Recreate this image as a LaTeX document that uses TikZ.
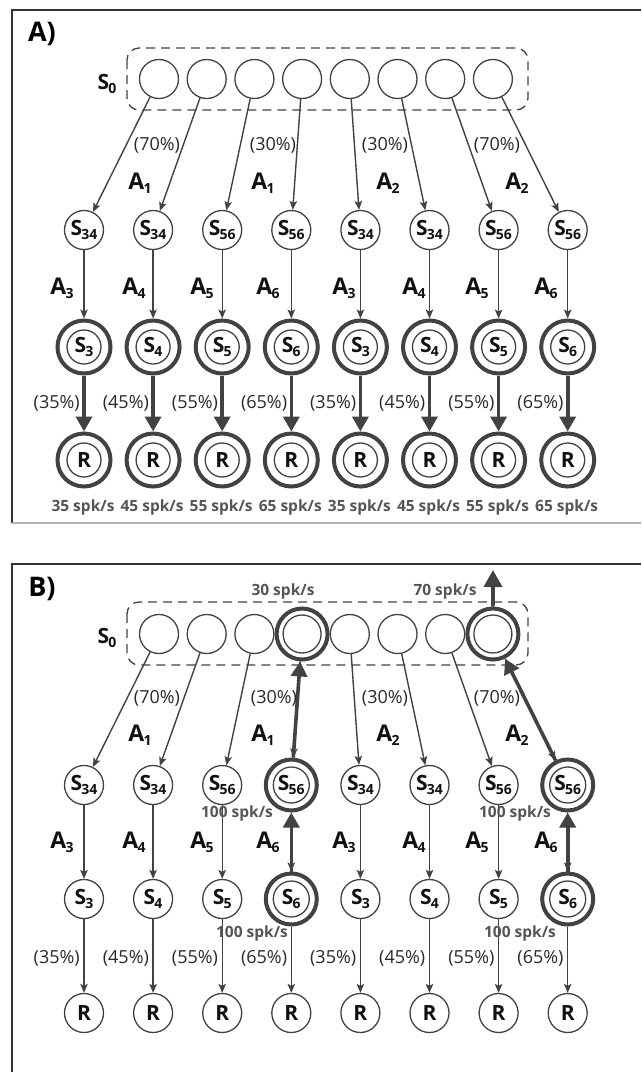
\documentclass[tikz,border=0pt]{standalone}
\usepackage{fontspec}
\setmainfont{Open Sans}
\usetikzlibrary{arrows.meta}
\definecolor{ln}{HTML}{424242}
\definecolor{tx}{HTML}{111111}
\definecolor{gy}{HTML}{555555}
\newcommand\nsub[2]{#1\kern-0.8pt\raisebox{-4pt}{\fontsize{14}{14}\selectfont #2}}
\begin{document}
\begin{tikzpicture}[x=1pt,y=-1pt,
  plain/.style={circle,draw=ln,line width=1.3pt,minimum size=39pt,inner sep=0pt,
    font=\fontsize{21}{21}\selectfont\bfseries,text=tx},
  ring/.style={circle,draw=ln,line width=4pt,minimum size=#1,inner sep=0pt,
    font=\fontsize{21}{21}\selectfont\bfseries,text=tx},
  inner/.style={path picture={\draw[ln,line width=1.3pt] (path picture bounding box.center) circle (#1);}},
  tarrow/.style={draw=ln,line width=1.4pt,-{Stealth[length=9pt,width=7.5pt,inset=2pt]}},
  karrow/.style={draw=ln,line width=3.6pt,-{Triangle[length=15pt,width=16pt]}},
  pct/.style={font=\fontsize{18}{18}\selectfont,text=tx!90,inner sep=0pt},
  alab/.style={font=\fontsize{23}{23}\selectfont\bfseries,text=tx,inner sep=0pt},
  spk/.style={font=\fontsize{15.5}{15.5}\selectfont\bfseries,text=gy,inner sep=0pt},
  panel/.style={font=\fontsize{27}{27}\selectfont\bfseries,text=black,inner sep=0pt},
  dashbox/.style={draw=ln,line width=1.3pt,dash pattern=on 9pt off 6pt,rounded corners=12pt},
  frame/.style={draw=black!80,line width=1.3pt}
]
\useasboundingbox (0,0) rectangle (641,1072);
% frames
\draw[frame] (641,10) -- (12,10) -- (12,523);
\draw[draw=black!30,line width=1.3pt] (12,523) -- (641,523);
\draw[frame] (641,564) -- (12,564) -- (12,1072);
\node[panel] (pA) at (42,34) {A)};
\node[panel] (pB) at (42,589) {B)};

% ================= PANEL A =================
\draw[dashbox] (127,48) rectangle (528,110);
\node[alab,font=\fontsize{21}{21}\selectfont\bfseries] (s0a) at (107,84) {\nsub{S}{0}};
\foreach \i in {1,...,8} {
  \node[plain] (at\i) at ({159+47.7*(\i-1)},79) {};
}
\foreach \i/\k in {1/34,2/34,3/56,4/56,5/34,6/34,7/56,8/56} {
  \node[plain] (a2\i) at ({84+69.1*(\i-1)},230) {\nsub{S}{\k}};
}
\foreach \i/\k in {1/3,2/4,3/5,4/6,5/3,6/4,7/5,8/6} {
  \node[ring=53pt,inner=17pt] (a3\i) at ({84+69.1*(\i-1)},347) {\nsub{S}{\k}};
  \node[ring=53pt,inner=17pt] (a4\i) at ({84+69.1*(\i-1)},460) {R};
}
\foreach \i in {1,...,8} {
  \draw[tarrow] (at\i) -- (a2\i);
  \draw[tarrow] (a2\i) -- (a3\i);
  \draw[karrow] (a3\i) -- (a4\i);
}
\foreach \i/\v in {1/35,2/45,3/55,4/65,5/35,6/45,7/55,8/65} {
  \node[spk] (as\i) at ({83+69.1*(\i-1)},507) {\v\ spk/s};
  \node[pct,anchor=east] (ap\i) at ({80+69.1*(\i-1)},403) {(\v\%)};
}
\foreach \i/\k/\x in {1/3/62,2/4/134,3/5/202,4/6/268,5/3/344,6/4/414,7/5/477,8/6/546} {
  \node[alab] (aa\i) at (\x,288) {\nsub{A}{\k}};
}
\node[pct] (apt1) at (157,145) {(70\%)};
\node[pct] (apt2) at (273,145) {(30\%)};
\node[pct] (apt3) at (385,145) {(30\%)};
\node[pct] (apt4) at (497,145) {(70\%)};
\node[alab] (aat1) at (140,183) {\nsub{A}{1}};
\node[alab] (aat2) at (263,183) {\nsub{A}{1}};
\node[alab] (aat3) at (388,183) {\nsub{A}{2}};
\node[alab] (aat4) at (517,183) {\nsub{A}{2}};

% ================= PANEL B =================
\draw[dashbox] (127,602) rectangle (528,665);
\node[alab,font=\fontsize{21}{21}\selectfont\bfseries] (s0b) at (107,638) {\nsub{S}{0}};
\foreach \i in {1,2,3,5,6,7} {
  \node[plain] (bt\i) at ({159+47.7*(\i-1)},634) {};
}
\foreach \i in {4,8} {
  \node[ring=51pt,inner=19pt] (bt\i) at ({159+47.7*(\i-1)},634) {};
}
\foreach \i/\k in {1/34,2/34,3/56,5/34,6/34,7/56} {
  \node[plain] (b2\i) at ({84+69.1*(\i-1)},785) {\nsub{S}{\k}};
}
\foreach \i/\k in {1/3,2/4,3/5,5/3,6/4,7/5} {
  \node[plain] (b3\i) at ({84+69.1*(\i-1)},899) {\nsub{S}{\k}};
}
\foreach \i in {4,8} {
  \node[ring=51pt,inner=18pt] (b2\i) at ({84+69.1*(\i-1)},785) {\nsub{S}{56}};
  \node[ring=51pt,inner=18pt] (b3\i) at ({84+69.1*(\i-1)},899) {\nsub{S}{6}};
}
\foreach \i in {1,...,8} {
  \node[plain] (b4\i) at ({84+69.1*(\i-1)},1013) {R};
}
\foreach \i in {1,...,8} {
  \draw[tarrow] (bt\i) -- (b2\i);
  \draw[tarrow] (b2\i) -- (b3\i);
  \draw[tarrow] (b3\i) -- (b4\i);
}
\foreach \i in {4,8} {
  \draw[karrow] (b2\i) -- (bt\i);
  \draw[karrow] (b3\i) -- (b2\i);
}
\coordinate (up8) at (493,570);
\draw[karrow,-{Triangle[length=17pt,width=18pt]}] (bt8) -- (up8);
\foreach \i/\v in {1/35,2/45,3/55,4/65,5/35,6/45,7/55,8/65} {
  \node[pct,anchor=east] (bp\i) at ({80+69.1*(\i-1)},958) {(\v\%)};
}
\foreach \i/\k/\x in {1/3/62,2/4/134,3/5/202,4/6/268,5/3/344,6/4/414,7/5/477,8/6/546} {
  \node[alab] (ba\i) at (\x,842) {\nsub{A}{\k}};
}
\node[pct] (bpt1) at (157,698) {(70\%)};
\node[pct] (bpt2) at (274,698) {(30\%)};
\node[pct] (bpt3) at (385,698) {(30\%)};
\node[pct] (bpt4) at (497,698) {(70\%)};
\node[alab] (bat1) at (140,735) {\nsub{A}{1}};
\node[alab] (bat2) at (263,735) {\nsub{A}{1}};
\node[alab] (bat3) at (388,735) {\nsub{A}{2}};
\node[alab] (bat4) at (517,735) {\nsub{A}{2}};
\node[spk] (sp30) at (283,591) {30 spk/s};
\node[spk] (sp70) at (445,591) {70 spk/s};
\node[spk] (sp1) at (237,813) {100 spk/s};
\node[spk] (sp2) at (252,933) {100 spk/s};
\node[spk] (sp3) at (515,813) {100 spk/s};
\node[spk] (sp4) at (520,933) {100 spk/s};
\end{tikzpicture}
\end{document}
